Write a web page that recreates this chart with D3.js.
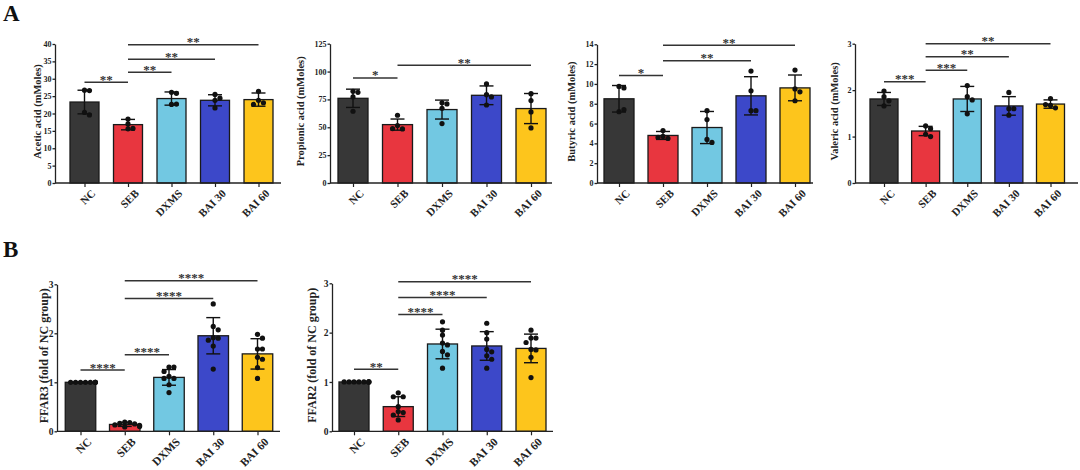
<!DOCTYPE html>
<html>
<head>
<meta charset="utf-8">
<script src="https://d3js.org/d3.v7.min.js"></script>
<style>
body { margin: 0; background: #fff; }
svg text { font-family: "Liberation Serif", "Times New Roman", serif; font-weight: bold; fill: #222; }
</style>
</head>
<body>
<script>
var groups = ["NC", "SEB", "DXMS", "BAI 30", "BAI 60"];
var barColors = ["#373737", "#e8363f", "#72c8e2", "#3c48c9", "#fdc51c"];

// acetic acid
var aceticMean = [23.3, 16.8, 24.3, 23.8, 24.0];
var aceticSD = [3.4, 1.5, 1.9, 1.6, 1.9];
var aceticPts = [[26.7, 26.6, 20.3, 19.6], [18.4, 17.0, 15.7, 15.6], [26.1, 25.8, 22.6, 22.7], [25.5, 24.4, 23.8, 21.6], [26.4, 23.8, 23.1, 22.6]];
var aceticSig = [[0, 1, 29.0, "**"], [1, 2, 31.9, "**"], [1, 3, 35.6, "**"], [1, 4, 39.8, "**"]];
var aceticTicks = [0, 5, 10, 15, 20, 25, 30, 35, 40];

// propionic acid
var propionicMean = [76.0, 52.4, 65.9, 78.7, 66.8];
var propionicSD = [8.2, 5.0, 8.5, 8.4, 13.5];
var propionicPts = [[82.3, 81.4, 77.2, 64.4], [60.8, 51.5, 48.5, 48.8], [72.0, 71.0, 67.0, 53.3], [88.9, 79.3, 77.2, 70.0], [80.2, 74.0, 63.8, 49.4]];
var propionicSig = [[0, 1, 94.3, "*"], [1, 4, 105.7, "**"]];
var propionicTicks = [0, 25, 50, 75, 100, 125];

// butyric acid
var butyricMean = [8.5, 4.8, 5.6, 8.8, 9.6];
var butyricSD = [1.34, 0.4, 1.62, 1.93, 1.3];
var butyricPts = [[9.75, 9.6, 7.2, 7.4], [5.3, 4.7, 4.5, 4.6], [7.3, 6.4, 4.4, 4.1], [11.3, 9.3, 7.3, 7.3], [11.4, 9.5, 9.2, 8.3]];
var butyricSig = [[0, 1, 10.85, "*"], [1, 3, 12.35, "**"], [1, 4, 13.9, "**"]];
var butyricTicks = [0, 2, 4, 6, 8, 10, 12, 14];

// valeric acid
var valericMean = [1.81, 1.12, 1.81, 1.66, 1.70];
var valericSD = [0.14, 0.1, 0.27, 0.2, 0.09];
var valericPts = [[1.98, 1.86, 1.77, 1.66], [1.23, 1.17, 1.05, 1.0], [2.1, 1.86, 1.79, 1.49], [1.95, 1.6, 1.6, 1.46], [1.82, 1.67, 1.62, 1.69]];
var valericSig = [[0, 1, 2.18, "***"], [1, 2, 2.43, "***"], [1, 3, 2.72, "**"], [1, 4, 3.0, "**"]];
var valericTicks = [0, 1, 2, 3];

// FFAR3
var ffar3Mean = [1.0, 0.14, 1.1, 1.95, 1.58];
var ffar3SD = [0.01, 0.04, 0.16, 0.37, 0.31];
var ffar3Pts = [[1, 1, 1, 1, 1, 1, 1, 1], [0.19, 0.18, 0.16, 0.15, 0.13, 0.12, 0.10, 0.09], [1.31, 1.31, 1.22, 1.12, 1.08, 1.08, 0.95, 0.79], [2.6, 2.14, 2.07, 1.91, 1.9, 1.86, 1.74, 1.27], [1.98, 1.9, 1.68, 1.68, 1.51, 1.47, 1.3, 1.08]];
var ffar3Sig = [[0, 1, 1.25, "****"], [1, 2, 1.56, "****"], [1, 3, 2.71, "****"], [1, 4, 3.07, "****"]];
var ffar3Ticks = [0, 1, 2, 3];

// FFAR2
var ffar2Mean = [1.0, 0.5, 1.77, 1.73, 1.68];
var ffar2SD = [0.01, 0.2, 0.3, 0.29, 0.29];
var ffar2Pts = [[1, 1, 1, 1, 1, 1, 1, 1], [0.78, 0.7, 0.7, 0.5, 0.4, 0.38, 0.33, 0.23], [2.22, 2.05, 1.95, 1.79, 1.75, 1.62, 1.55, 1.28], [2.19, 2.0, 1.87, 1.66, 1.61, 1.53, 1.46, 1.28], [2.05, 1.89, 1.89, 1.8, 1.66, 1.65, 1.5, 1.09]];
var ffar2Sig = [[0, 1, 1.26, "**"], [1, 2, 2.37, "****"], [1, 3, 2.71, "****"], [1, 4, 3.03, "****"]];
var ffar2Ticks = [0, 1, 2, 3];

var panels = [
	{ title: "Acetic acid (mMoles)", mean: aceticMean, sd: aceticSD, pts: aceticPts, sig: aceticSig, ticks: aceticTicks,
	  x0: 55, x1: 281, c0: 84.5, c4: 258.5, base: 183, top: 44, bw: 29, tx: 37, fs: 8, xfs: 11, tfs: 10.5 },
	{ title: "Propionic acid (mMoles)", mean: propionicMean, sd: propionicSD, pts: propionicPts, sig: propionicSig, ticks: propionicTicks,
	  x0: 330, x1: 552, c0: 353, c4: 531, base: 183, top: 43.7, bw: 30, tx: 300, fs: 8, xfs: 11, tfs: 10.5 },
	{ title: "Butyric acid (mMoles)", mean: butyricMean, sd: butyricSD, pts: butyricPts, sig: butyricSig, ticks: butyricTicks,
	  x0: 597, x1: 813, c0: 619, c4: 795, base: 183, top: 44.3, bw: 30, tx: 571, fs: 8, xfs: 11, tfs: 10.5 },
	{ title: "Valeric acid (mMoles)", mean: valericMean, sd: valericSD, pts: valericPts, sig: valericSig, ticks: valericTicks,
	  x0: 855, x1: 1078, c0: 884, c4: 1050.5, base: 183, top: 43.7, bw: 28, tx: 834, fs: 8, xfs: 11, tfs: 10.5 },
	{ title: "FFAR3 (fold of NC group)", mean: ffar3Mean, sd: ffar3SD, pts: ffar3Pts, sig: ffar3Sig, ticks: ffar3Ticks,
	  x0: 57, x1: 280, c0: 80.5, c4: 257.5, base: 431.3, top: 284.3, bw: 30.5, tx: 44, fs: 9.5, xfs: 11.5, tfs: 12 },
	{ title: "FFAR2 (fold of NC group)", mean: ffar2Mean, sd: ffar2SD, pts: ffar2Pts, sig: ffar2Sig, ticks: ffar2Ticks,
	  x0: 332, x1: 553, c0: 354, c4: 531, base: 431.3, top: 283.3, bw: 30, tx: 312, fs: 9.5, xfs: 11.5, tfs: 12 }
];

var svg = d3.select("body").append("svg")
	.attr("width", 1080)
	.attr("height", 470);

svg.append("text").attr("x", 3).attr("y", 21).style("font-size", "23px").style("fill", "#111").text("A");
svg.append("text").attr("x", 3).attr("y", 257).style("font-size", "23px").style("fill", "#111").text("B");

function swarm(vals, cx, y, r, half) {
	var placed = [];
	vals.forEach(function(v) {
		var py = y(v), k = 0, px = cx;
		while (true) {
			var off = k === 0 ? 0 : (k % 2 ? 1 : -1) * Math.ceil(k / 2) * r * 1.9;
			px = cx + off;
			var hit = placed.some(function(p) {
				var dx = p.x - px, dy = p.y - py;
				return dx * dx + dy * dy < (r * 1.8) * (r * 1.8);
			});
			if (!hit || Math.abs(off) > half) break;
			k++;
		}
		placed.push({ x: px, y: py });
	});
	return placed;
}

panels.forEach(function(p) {
	var y = d3.scaleLinear().domain([0, d3.max(p.ticks)]).range([p.base, p.top]);
	var x = d3.scalePoint().domain(groups).range([p.c0, p.c4]);
	var g = svg.append("g");

	// bars
	g.selectAll(".bar").data(p.mean).enter().append("rect")
		.attr("x", function(d, i) { return x(groups[i]) - p.bw / 2; })
		.attr("y", function(d) { return y(d); })
		.attr("width", p.bw)
		.attr("height", function(d) { return p.base - y(d); })
		.attr("fill", function(d, i) { return barColors[i]; })
		.attr("stroke", "#1a1a1a")
		.attr("stroke-width", 1.3);

	// points
	p.pts.forEach(function(vals, i) {
		var pos = swarm(vals, x(groups[i]), y, 2.6, p.bw / 2 - 1);
		g.selectAll(null).data(pos).enter().append("circle")
			.attr("cx", function(d) { return d.x; })
			.attr("cy", function(d) { return d.y; })
			.attr("r", 2.6)
			.attr("fill", "#111");
	});

	// error bars
	p.mean.forEach(function(m, i) {
		var cx = x(groups[i]), hi = y(m + p.sd[i]), lo = y(Math.max(0, m - p.sd[i]));
		var eg = g.append("g").attr("stroke", "#111").attr("stroke-width", 1.4);
		eg.append("line").attr("x1", cx).attr("x2", cx).attr("y1", hi).attr("y2", lo);
		eg.append("line").attr("x1", cx - 7).attr("x2", cx + 7).attr("y1", hi).attr("y2", hi);
		eg.append("line").attr("x1", cx - 7).attr("x2", cx + 7).attr("y1", lo).attr("y2", lo);
	});

	// y axis
	var ya = g.append("g")
		.attr("transform", "translate(" + p.x0 + ",0)")
		.call(d3.axisLeft(y).tickValues(p.ticks).tickFormat(d3.format("d")).tickSize(2.5).tickSizeOuter(0).tickPadding(1));
	ya.selectAll("text").style("font-size", p.fs + "px").style("fill", "#222");
	ya.selectAll("line, path").attr("stroke", "#222").attr("stroke-width", 1.3);

	// x axis
	var xa = g.append("g")
		.attr("transform", "translate(0," + p.base + ")")
		.call(d3.axisBottom(x).tickSize(4).tickSizeOuter(0));
	xa.select(".domain").remove();
	xa.selectAll("line").attr("stroke", "#222").attr("stroke-width", 1.2);
	xa.selectAll("text")
		.style("font-size", p.xfs + "px")
		.style("fill", "#222")
		.attr("text-anchor", "end")
		.attr("transform", "translate(4,4) rotate(-45)")
		.attr("dx", 0).attr("dy", "0.55em").attr("y", 4);
	g.append("line")
		.attr("x1", p.x0).attr("x2", p.x1)
		.attr("y1", p.base).attr("y2", p.base)
		.attr("stroke", "#222").attr("stroke-width", 1.3);

	// y title
	g.append("text")
		.attr("transform", "translate(" + p.tx + "," + ((p.base + p.top) / 2 - 2) + ") rotate(-90)")
		.attr("text-anchor", "middle")
		.attr("dy", "0.35em")
		.style("font-size", p.tfs + "px")
		.text(p.title);

	// significance brackets
	p.sig.forEach(function(s) {
		var xa1 = x(groups[s[0]]), xa2 = x(groups[s[1]]), yy = y(s[2]);
		g.append("line")
			.attr("x1", xa1).attr("x2", xa2)
			.attr("y1", yy).attr("y2", yy)
			.attr("stroke", "#333").attr("stroke-width", 1.5);
		g.append("text")
			.attr("x", (xa1 + xa2) / 2).attr("y", yy + 1.5)
			.attr("text-anchor", "middle")
			.style("font-size", "13px")
			.style("fill", "#333")
			.text(s[3]);
	});
});
</script>
</body>
</html>
